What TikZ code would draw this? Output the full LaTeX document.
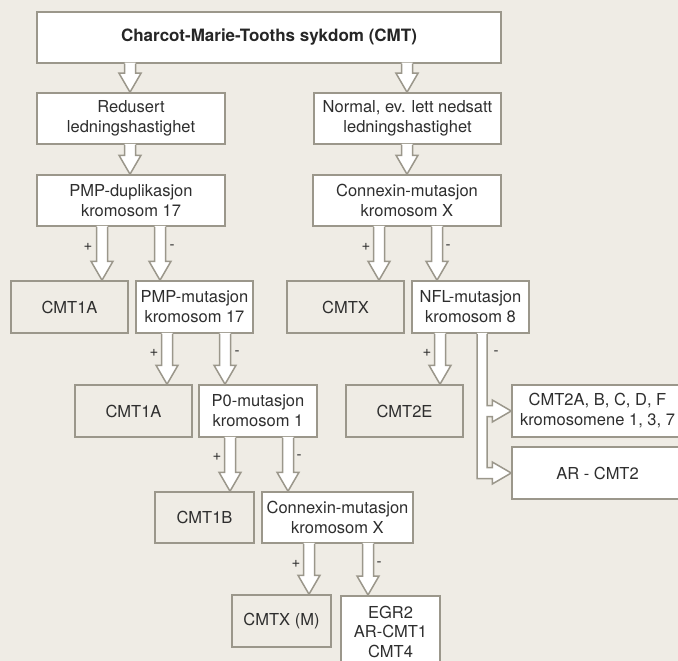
\documentclass[tikz,border=0pt]{standalone}
\usepackage{fontspec}
\setmainfont{TeX Gyre Heros}
\usetikzlibrary{calc}
\definecolor{bg}{HTML}{EFECE5}
\definecolor{edge}{HTML}{9B978B}
\definecolor{ink}{HTML}{2E2E2E}
\tikzset{
  box/.style={draw=edge, line width=1.5pt, fill=white, inner sep=0pt, align=center,
    text=ink, font=\fontsize{16.5}{20}\selectfont},
  endbox/.style={box, fill=bg},
  arrline/.style={draw=edge, line width=1.5pt, line join=miter},
  sign/.style={text=ink, font=\fontsize{15}{15}\selectfont, inner sep=0pt},
}
\newcommand\fatdown[3]{%
  \path (#1,0 |- #2.south) coordinate (faS) (#1,0 |- #3.north) coordinate (faT);
  \fill[white] let \p1=(faS), \p2=(faT) in
    (\x1-5.5pt,\y1+1pt) -- (\x1-5.5pt,\y2+19pt) -- (\x1-11pt,\y2+19pt) -- (\x1,\y2)
    -- (\x1+11pt,\y2+19pt) -- (\x1+5.5pt,\y2+19pt) -- (\x1+5.5pt,\y1+1pt) -- cycle;
  \draw[arrline] let \p1=(faS), \p2=(faT) in
    (\x1-5.5pt,\y1) -- (\x1-5.5pt,\y2+19pt) -- (\x1-11pt,\y2+19pt) -- (\x1,\y2)
    -- (\x1+11pt,\y2+19pt) -- (\x1+5.5pt,\y2+19pt) -- (\x1+5.5pt,\y1);
}
\begin{document}
\begin{tikzpicture}[x=1pt,y=-1pt]
\useasboundingbox (0,0) rectangle (678,661);
\clip (0,0) rectangle (678,661);
\fill[bg] (0,0) rectangle (678,661);

% boxes
\node[box, minimum width=464pt, minimum height=51pt, font=\fontsize{17}{20}\selectfont\bfseries, text=black!85] (top) at (269,37.5) {Charcot-Marie-Tooths sykdom (CMT)};
\node[box, minimum width=188pt, minimum height=51pt] (red) at (131,118.5) {Redusert\\ledningshastighet};
\node[box, minimum width=187pt, minimum height=51pt] (norm) at (407.5,118.5) {Normal, ev. lett nedsatt\\ledningshastighet};
\node[box, minimum width=188pt, minimum height=51pt] (pmpdup) at (131,200.5) {PMP-duplikasjon\\kromosom 17};
\node[box, minimum width=188pt, minimum height=51pt] (conx) at (407,200.5) {Connexin-mutasjon\\kromosom X};

\node[endbox, minimum width=117pt, minimum height=52pt] (cmt1a) at (69.5,307) {CMT1A};
\node[box, minimum width=117pt, minimum height=52pt] (pmpmut) at (194.5,307) {PMP-mutasjon\\kromosom 17};
\node[endbox, minimum width=117pt, minimum height=52pt] (cmtx) at (345.5,307) {CMTX};
\node[box, minimum width=117pt, minimum height=52pt] (nfl) at (470.5,307) {NFL-mutasjon\\kromosom 8};

\node[endbox, minimum width=117pt, minimum height=52pt] (cmt1ab) at (133.5,411) {CMT1A};
\node[box, minimum width=118pt, minimum height=52pt] (p0) at (258,411) {P0-mutasjon\\kromosom 1};
\node[endbox, minimum width=117pt, minimum height=52pt] (cmt2e) at (404.5,411) {CMT2E};
\node[box, minimum width=171pt, minimum height=52pt] (cmt2a) at (597.5,411) {CMT2A, B, C, D, F\\kromosomene 1, 3, 7};
\node[box, minimum width=171pt, minimum height=52pt] (ar) at (597.5,473) {AR - CMT2};

\node[endbox, minimum width=99pt, minimum height=51pt] (cmt1b) at (204.5,517.5) {CMT1B};
\node[box, minimum width=151pt, minimum height=51pt] (conx2) at (337.5,517.5) {Connexin-mutasjon\\kromosom X};

\node[endbox, minimum width=99pt, minimum height=52pt] (cmtxm) at (281.5,621) {CMTX (M)};
\node[box, minimum width=99pt, inner ysep=10pt, anchor=north, font=\fontsize{16.5}{19.5}\selectfont] (egr) at (390.5,595) {EGR2\\AR-CMT1\\CMT4};

% arrows
\fatdown{130}{top}{red}
\fatdown{407}{top}{norm}
\fatdown{130}{red}{pmpdup}
\fatdown{407}{norm}{conx}
\fatdown{102}{pmpdup}{cmt1a}
\fatdown{160}{pmpdup}{pmpmut}
\fatdown{379}{conx}{cmtx}
\fatdown{437}{conx}{nfl}
\fatdown{167}{pmpmut}{cmt1ab}
\fatdown{225}{pmpmut}{p0}
\fatdown{440}{nfl}{cmt2e}
\fatdown{230}{p0}{cmt1b}
\fatdown{288}{p0}{conx2}
\fatdown{309}{conx2}{cmtxm}
\fatdown{368}{conx2}{egr}

% split arrow from NFL
\fill[white] let \p1=(nfl.south), \p2=(cmt2a.west), \p3=(ar.west) in
  (477pt,\y1+1pt) -- (477pt,\y3-5.5pt) -- (\x3-19pt,\y3-5.5pt) -- (\x3-19pt,\y3-11pt) -- (\x3,\y3)
  -- (\x3-19pt,\y3+11pt) -- (\x3-19pt,\y3+5.5pt) -- (487pt,\y3+5.5pt) -- (487pt,\y2-5.5pt)
  -- (\x2-19pt,\y2-5.5pt) -- (\x2-19pt,\y2-11pt) -- (\x2,\y2) -- (\x2-19pt,\y2+11pt)
  -- (\x2-19pt,\y2+5.5pt) -- (487pt,\y2+5.5pt) -- (487pt,\y1+1pt) -- cycle;
\draw[arrline] let \p1=(nfl.south), \p2=(cmt2a.west), \p3=(ar.west) in
  (477pt,\y1) -- (477pt,\y3-5.5pt) -- (\x3-19pt,\y3-5.5pt) -- (\x3-19pt,\y3-11pt) -- (\x3,\y3)
  -- (\x3-19pt,\y3+11pt) -- (\x3-19pt,\y3+5.5pt) -- (487pt,\y3+5.5pt) -- (487pt,\y2-5.5pt)
  -- (\x2-19pt,\y2-5.5pt) -- (\x2-19pt,\y2-11pt) -- (\x2,\y2) -- (\x2-19pt,\y2+11pt)
  -- (\x2-19pt,\y2+5.5pt) -- (487pt,\y2+5.5pt) -- (487pt,\y1);

% signs
\node[sign] (p1) at (88,247) {+};
\node[sign] (m1) at (172,247) {-};
\node[sign] (p2) at (366,247) {+};
\node[sign] (m2) at (448,247) {-};
\node[sign] (p3) at (154,353) {+};
\node[sign] (m3) at (237,353) {-};
\node[sign] (p4) at (427,353) {+};
\node[sign] (m4) at (496,353) {-};
\node[sign] (p5) at (217,457) {+};
\node[sign] (m5) at (299,457) {-};
\node[sign] (p6) at (296,564) {+};
\node[sign] (m6) at (379,564) {-};
\end{tikzpicture}
\end{document}
